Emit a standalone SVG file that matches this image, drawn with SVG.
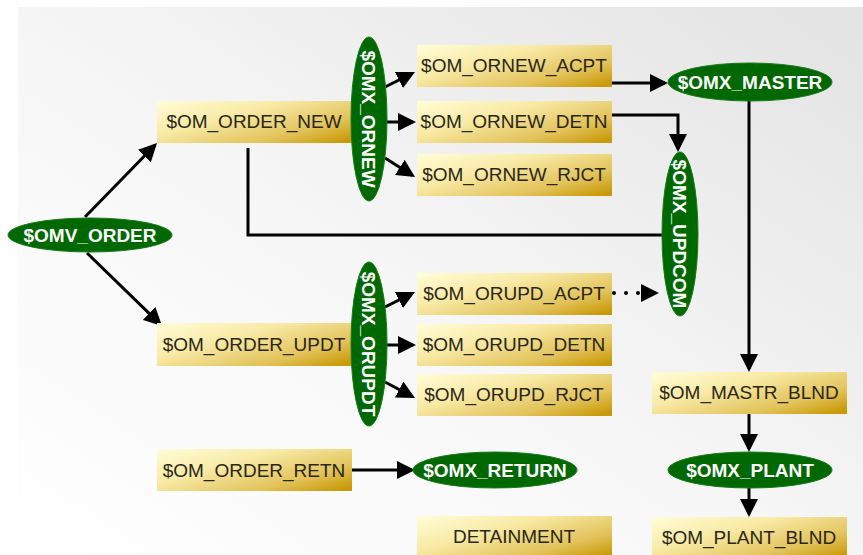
<svg xmlns="http://www.w3.org/2000/svg" width="863" height="555" viewBox="0 0 863 555">
<defs>
<linearGradient id="bg" x1="0" y1="1" x2="1" y2="0">
<stop offset="0" stop-color="#ffffff"/>
<stop offset="0.45" stop-color="#f7f7f7"/>
<stop offset="1" stop-color="#e3e3e3"/>
</linearGradient>
<linearGradient id="box" x1="0" y1="0.1" x2="1" y2="0.9">
<stop offset="0" stop-color="#fffbd2"/>
<stop offset="0.35" stop-color="#f8eaa6"/>
<stop offset="0.75" stop-color="#e2c25a"/>
<stop offset="1" stop-color="#c99a08"/>
</linearGradient>
<marker id="arr" viewBox="0 0 18 18" refX="15" refY="9" markerWidth="18" markerHeight="18" markerUnits="userSpaceOnUse" orient="auto">
<path d="M0,0 L18,9 L0,18 z" fill="#000"/>
</marker>
<style>
.box{fill:url(#box)}
.bt{font-family:"Liberation Sans",Arial,sans-serif;font-size:19px;fill:#2b2716;text-anchor:middle}
.ell{fill:#006800;stroke:#1a7a1a;stroke-width:1}
.et{font-family:"Liberation Sans",Arial,sans-serif;font-size:19px;font-weight:bold;fill:#ffffff;text-anchor:middle}
.c{fill:none;stroke:#000;stroke-width:3}
.ca{fill:none;stroke:#000;stroke-width:3;marker-end:url(#arr)}
.dot{fill:none;stroke:#000;stroke-width:4;stroke-linecap:round;stroke-dasharray:0 12;marker-end:url(#arr)}
</style>
</defs>
<rect x="0" y="0" width="863" height="555" fill="#ffffff"/>
<rect x="18" y="7" width="845" height="548" fill="url(#bg)"/>

<g id="connectors">
<path class="ca" d="M85,217 L154.9,145.2"/>
<path class="ca" d="M87,253 L159.9,323.9"/>
<path class="ca" d="M385,87 L412.3,73.3"/>
<path class="ca" d="M387,122 L413,122"/>
<path class="ca" d="M385,158 L412.5,175.4"/>
<path class="ca" d="M385,307 L412.3,293.3"/>
<path class="ca" d="M387,345 L413,345"/>
<path class="ca" d="M385,382 L412.4,396.6"/>
<path class="ca" d="M612,83 L665,83"/>
<path class="ca" d="M608,115 H678 V149"/>
<path class="c" d="M248,148 V235 H663"/>
<path class="dot" d="M614,293 H656"/>
<path class="ca" d="M749,101 V369"/>
<path class="ca" d="M749,414 V449"/>
<path class="ca" d="M749,488 V514"/>
<path class="ca" d="M352,470 H412"/>
</g>

<g id="OMV_ORDER"><ellipse class="ell" cx="90" cy="235" rx="82" ry="17"/><text class="et" x="90" y="242">$OMV_ORDER</text></g>
<g id="OM_ORDER_NEW"><rect class="box" x="157" y="101" width="195" height="42"/><text class="bt" x="254" y="128">$OM_ORDER_NEW</text></g>
<g id="OM_ORDER_UPDT"><rect class="box" x="157" y="323" width="195" height="43"/><text class="bt" x="254" y="351">$OM_ORDER_UPDT</text></g>
<g id="OM_ORDER_RETN"><rect class="box" x="157" y="449" width="195" height="42"/><text class="bt" x="254" y="477">$OM_ORDER_RETN</text></g>
<g id="OMX_ORNEW"><ellipse class="ell" cx="369" cy="119" rx="18" ry="82"/><text class="et" transform="translate(362,119) rotate(90)" x="0" y="0">$OMX_ORNEW</text></g>
<g id="OMX_ORUPDT"><ellipse class="ell" cx="369" cy="344" rx="18" ry="82"/><text class="et" transform="translate(362,344) rotate(90)" x="0" y="0">$OMX_ORUPDT</text></g>
<g id="OM_ORNEW_ACPT"><rect class="box" x="417" y="45" width="195" height="42"/><text class="bt" x="514" y="72">$OM_ORNEW_ACPT</text></g>
<g id="OM_ORNEW_DETN"><rect class="box" x="417" y="101" width="195" height="42"/><text class="bt" x="514" y="128">$OM_ORNEW_DETN</text></g>
<g id="OM_ORNEW_RJCT"><rect class="box" x="417" y="154" width="195" height="42"/><text class="bt" x="514" y="181">$OM_ORNEW_RJCT</text></g>
<g id="OM_ORUPD_ACPT"><rect class="box" x="417" y="273" width="195" height="42"/><text class="bt" x="514" y="300">$OM_ORUPD_ACPT</text></g>
<g id="OM_ORUPD_DETN"><rect class="box" x="417" y="324" width="195" height="42"/><text class="bt" x="514" y="351">$OM_ORUPD_DETN</text></g>
<g id="OM_ORUPD_RJCT"><rect class="box" x="417" y="374" width="195" height="42"/><text class="bt" x="514" y="401">$OM_ORUPD_RJCT</text></g>
<g id="OMX_RETURN"><ellipse class="ell" cx="495" cy="470" rx="82" ry="18"/><text class="et" x="495" y="477">$OMX_RETURN</text></g>
<g id="DETAINMENT"><rect class="box" x="417" y="516" width="195" height="42"/><text class="bt" x="514" y="543">DETAINMENT</text></g>
<g id="OMX_MASTER"><ellipse class="ell" cx="750" cy="82" rx="82" ry="19"/><text class="et" x="750" y="89">$OMX_MASTER</text></g>
<g id="OMX_UPDCOM"><ellipse class="ell" cx="680" cy="234" rx="18" ry="82"/><text class="et" transform="translate(673,234) rotate(90)" x="0" y="0">$OMX_UPDCOM</text></g>
<g id="OM_MASTR_BLND"><rect class="box" x="652" y="372" width="195" height="42"/><text class="bt" x="749" y="399">$OM_MASTR_BLND</text></g>
<g id="OMX_PLANT"><ellipse class="ell" cx="750" cy="470" rx="82" ry="18"/><text class="et" x="750" y="477">$OMX_PLANT</text></g>
<g id="OM_PLANT_BLND"><rect class="box" x="652" y="517" width="195" height="42"/><text class="bt" x="749" y="544">$OM_PLANT_BLND</text></g>
</svg>
